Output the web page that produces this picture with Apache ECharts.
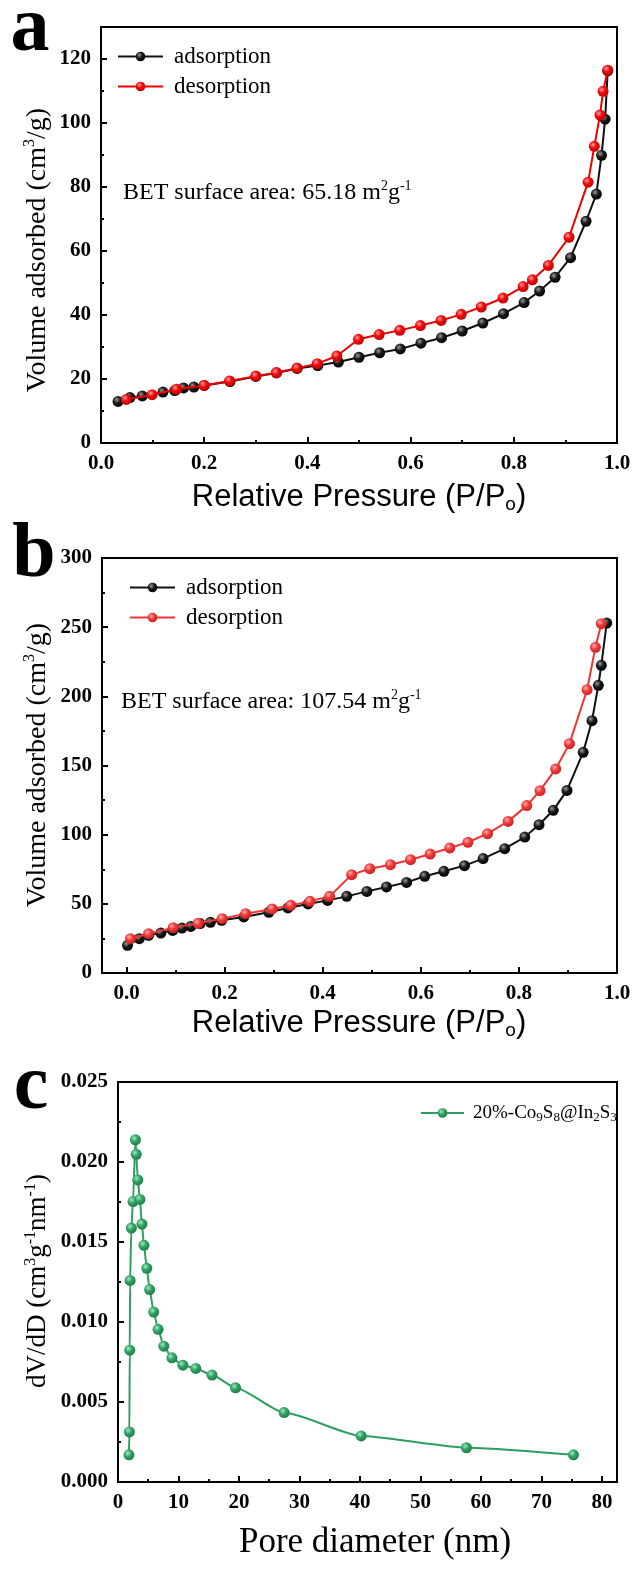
<!DOCTYPE html>
<html>
<head>
<meta charset="utf-8">
<script src="https://cdn.jsdelivr.net/npm/echarts@6/dist/echarts.min.js"></script>
<style>
  html, body { margin: 0; padding: 0; background: #fff; }
  #chart { width: 635px; height: 1578px; }
</style>
</head>
<body>
<div id="chart"></div>
<script>
// panel a: isotherm (P/Po, cm3/g)
var aAdsP = [0.033, 0.056, 0.08, 0.12, 0.143, 0.16, 0.18, 0.2, 0.25, 0.30, 0.34, 0.38, 0.42, 0.46, 0.50, 0.54, 0.58, 0.62, 0.66, 0.70, 0.74, 0.78, 0.82, 0.85, 0.88, 0.91, 0.94, 0.96, 0.97, 0.977, 0.982];
var aAdsV = [13.0, 14.2, 14.7, 15.9, 16.4, 17.2, 17.5, 18.0, 19.2, 20.8, 21.9, 23.3, 24.2, 25.3, 26.8, 28.2, 29.4, 31.2, 32.9, 35.0, 37.5, 40.4, 43.9, 47.5, 51.8, 57.9, 69.3, 77.8, 89.9, 101.2, 116.3];
var aDesP = [0.982, 0.973, 0.967, 0.956, 0.944, 0.907, 0.867, 0.836, 0.818, 0.779, 0.737, 0.698, 0.659, 0.619, 0.579, 0.539, 0.499, 0.457, 0.419, 0.38, 0.34, 0.30, 0.249, 0.2, 0.146, 0.099, 0.049];
var aDesV = [116.5, 109.9, 102.5, 92.7, 81.5, 64.3, 55.5, 51.0, 48.9, 45.3, 42.5, 40.2, 38.3, 36.7, 35.2, 33.9, 32.4, 27.2, 24.8, 23.4, 22.0, 20.9, 19.4, 18.0, 16.8, 15.1, 13.6];

// panel b
var bAdsP = [0.002, 0.026, 0.045, 0.07, 0.094, 0.113, 0.131, 0.15, 0.171, 0.194, 0.239, 0.29, 0.329, 0.37, 0.41, 0.449, 0.49, 0.53, 0.571, 0.608, 0.647, 0.689, 0.727, 0.771, 0.812, 0.841, 0.87, 0.898, 0.931, 0.949, 0.962, 0.968, 0.979];
var bAdsV = [20, 24.8, 27.2, 28.9, 30.8, 32.5, 33.7, 35.7, 36.6, 38.1, 40.5, 43.9, 47, 49.9, 52.5, 55.4, 59, 62.2, 65.5, 69.9, 73.5, 77.6, 82.7, 89.9, 98.3, 107.2, 117.6, 132, 159.5, 182.4, 208, 222.4, 253];
var bDesP = [0.968, 0.956, 0.939, 0.903, 0.875, 0.843, 0.816, 0.778, 0.736, 0.696, 0.659, 0.619, 0.579, 0.538, 0.496, 0.459, 0.414, 0.374, 0.335, 0.297, 0.243, 0.195, 0.146, 0.095, 0.045, 0.008];
var bDesV = [252.5, 235.4, 204.8, 165.8, 147.5, 131.8, 121, 109.6, 100.7, 94.5, 90.4, 86, 81.9, 78.3, 75.4, 71.1, 55.4, 51.8, 48.9, 46.3, 42.9, 39.3, 35.9, 32.8, 28.4, 24.8];

// panel c: pore size distribution
var cDiam = [1.81, 1.88, 1.94, 2.0, 2.21, 2.48, 2.88, 3.02, 3.28, 3.62, 3.95, 4.29, 4.76, 5.23, 5.9, 6.63, 7.57, 8.91, 10.72, 12.86, 15.54, 19.43, 27.47, 40.2, 57.6, 75.3];
var cDvdd = [0.0017, 0.00313, 0.00824, 0.0126, 0.01587, 0.01753, 0.02139, 0.02048, 0.01888, 0.01766, 0.01612, 0.01479, 0.01336, 0.01203, 0.01062, 0.00954, 0.00849, 0.00776, 0.0073, 0.0071, 0.00668, 0.00589, 0.00434, 0.00288, 0.00214, 0.0017];

// ticks
var pTicks = [0, 0.2, 0.4, 0.6, 0.8, 1.0];
var pMinor = [0.1, 0.3, 0.5, 0.7, 0.9];
var aVTicks = [0, 20, 40, 60, 80, 100, 120];
var aVMinor = [10, 30, 50, 70, 90, 110, 130];
var bVTicks = [0, 50, 100, 150, 200, 250, 300];
var bVMinor = [25, 75, 125, 175, 225, 275];
var cDTicks = [0, 10, 20, 30, 40, 50, 60, 70, 80];
var cDMinor = [5, 15, 25, 35, 45, 55, 65, 75];
var cVTicks = [0, 0.005, 0.010, 0.015, 0.020, 0.025];
var cVMinor = [0.0025, 0.0075, 0.0125, 0.0175, 0.0225];

function pairs(xs, ys) {
  return xs.map(function (x, i) { return [x, ys[i]]; });
}

function ball(c0, c1, c2) {
  return {
    type: 'radial', x: 0.38, y: 0.35, r: 0.7,
    colorStops: [{ offset: 0, color: c0 }, { offset: 0.45, color: c1 }, { offset: 1, color: c2 }]
  };
}

var serif = '"Liberation Serif", "DejaVu Serif", serif';
var sans = '"Liberation Sans", Arial, sans-serif';

function mainAxis(grid, min, max, ticks, pos, fmt) {
  return {
    type: 'value', gridIndex: grid, min: min, max: max, position: pos,
    axisLine: { show: true, onZero: false, lineStyle: { color: '#000', width: 2 } },
    axisTick: { show: true, inside: true, length: 6, customValues: ticks, lineStyle: { color: '#000', width: 2 } },
    axisLabel: {
      show: true, customValues: ticks, margin: 10, formatter: fmt,
      color: '#000', fontFamily: serif, fontWeight: 'bold', fontSize: 21
    },
    splitLine: { show: false }
  };
}

function minorAxis(grid, min, max, ticks, pos) {
  return {
    type: 'value', gridIndex: grid, min: min, max: max, position: pos,
    axisLine: { show: false, onZero: false },
    axisTick: { show: true, inside: true, length: 3, customValues: ticks, lineStyle: { color: '#000', width: 2 } },
    axisLabel: { show: false },
    splitLine: { show: false }
  };
}

function fix(n) { return function (v) { return v.toFixed(n); }; }

var chart = echarts.init(document.getElementById('chart'), null, { renderer: 'canvas' });

var subRich = {
  sub: { fontSize: 13, fontFamily: serif, color: '#000', verticalAlign: 'bottom', lineHeight: 12, padding: [10, 0, 0, 0] }
};

function txt(x, y, text, size, family, extra) {
  var st = { text: text, x: 0, y: 0, fontSize: size, fontFamily: family, fill: '#000',
             align: 'center', verticalAlign: 'middle', lineHeight: size + 4 };
  for (var k in extra) st[k] = extra[k];
  return { type: 'text', x: x, y: y, style: st, z: 10 };
}

var supT = { fontSize: 16, fontFamily: serif, fill: '#000', verticalAlign: 'top', lineHeight: 16 };
var supS = { fontSize: 14, fontFamily: serif, fill: '#000', verticalAlign: 'top', lineHeight: 14 };
var subX = { fontSize: 19, fontFamily: sans, fill: '#000', verticalAlign: 'bottom', padding: [16, 0, 0, 0], lineHeight: 19 };

var yTitleA = txt(38, 250, 'Volume adsorbed (cm{sup|3}/g)', 28, serif, { rich: { sup: supT } });
yTitleA.rotation = Math.PI / 2;
var yTitleB = txt(38, 765, 'Volume adsorbed (cm{sup|3}/g)', 28, serif, { rich: { sup: supT } });
yTitleB.rotation = Math.PI / 2;
var yTitleC = txt(38, 1281, 'dV/dD (cm{sup|3}g{sup|-1}nm{sup|-1})', 27, serif, { rich: { sup: supT } });
yTitleC.rotation = Math.PI / 2;

chart.setOption({
  animation: false,
  backgroundColor: '#fff',
  grid: [
    { left: 101, top: 27, width: 516, height: 416, show: true, borderColor: '#000', borderWidth: 2 },
    { left: 102, top: 558, width: 515, height: 415, show: true, borderColor: '#000', borderWidth: 2 },
    { left: 118, top: 1082, width: 499, height: 400, show: true, borderColor: '#000', borderWidth: 2 }
  ],
  xAxis: [
    mainAxis(0, 0, 1, pTicks, 'bottom', fix(1)),
    minorAxis(0, 0, 1, pMinor, 'bottom'),
    mainAxis(1, -0.05, 1, pTicks, 'bottom', fix(1)),
    minorAxis(1, -0.05, 1, pMinor, 'bottom'),
    mainAxis(2, 0, 82.5, cDTicks, 'bottom', fix(0)),
    minorAxis(2, 0, 82.5, cDMinor, 'bottom')
  ],
  yAxis: [
    mainAxis(0, 0, 130, aVTicks, 'left', fix(0)),
    minorAxis(0, 0, 130, aVMinor, 'left'),
    mainAxis(1, 0, 300, bVTicks, 'left', fix(0)),
    minorAxis(1, 0, 300, bVMinor, 'left'),
    mainAxis(2, 0, 0.025, cVTicks, 'left', fix(3)),
    minorAxis(2, 0, 0.025, cVMinor, 'left')
  ],
  legend: [
    {
      left: 117, top: 45, padding: 0, orient: 'vertical', itemWidth: 45, itemHeight: 12, itemGap: 7,
      data: ['adsorption', 'desorption'],
      textStyle: { fontFamily: serif, fontSize: 23, color: '#000', lineHeight: 23, padding: [0, 0, 0, 6] }
    },
    {
      left: 129, top: 576, padding: 0, orient: 'vertical', itemWidth: 45, itemHeight: 12, itemGap: 7,
      data: ['adsorption ', 'desorption '],
      textStyle: { fontFamily: serif, fontSize: 23, color: '#000', lineHeight: 23, padding: [0, 0, 0, 6] }
    },
    {
      left: 420, top: 1101, padding: 0, orient: 'vertical', itemWidth: 43, itemHeight: 12,
      data: ['20%-Co9S8@In2S3'],
      formatter: function () { return '20%-Co{sub|9}S{sub|8}@In{sub|2}S{sub|3}'; },
      textStyle: { fontFamily: serif, fontSize: 19, color: '#000', lineHeight: 22, padding: [0, 0, 0, 4], rich: subRich }
    }
  ],
  graphic: [
    txt(30, 30, 'a', 78, serif, { fontWeight: 'bold' }),
    txt(34, 556, 'b', 78, serif, { fontWeight: 'bold' }),
    txt(31, 1088, 'c', 78, serif, { fontWeight: 'bold' }),
    yTitleA, yTitleB, yTitleC,
    txt(359, 497, 'Relative Pressure (P/P{sub|o})', 31, sans, { rich: { sub: subX } }),
    txt(359, 1023, 'Relative Pressure (P/P{sub|o})', 31, sans, { rich: { sub: subX } }),
    txt(375, 1543, 'Pore diameter (nm)', 35, serif, {}),
    txt(123, 193, 'BET surface area: 65.18 m{sup|2}g{sup|-1}', 24, serif, { align: 'left', rich: { sup: supS } }),
    txt(121, 702, 'BET surface area: 107.54 m{sup|2}g{sup|-1}', 24, serif, { align: 'left', rich: { sup: supS } })
  ],
  series: [
    {
      name: 'adsorption', type: 'line', xAxisIndex: 0, yAxisIndex: 0,
      data: pairs(aAdsP, aAdsV), symbol: 'circle', symbolSize: 11, z: 3,
      lineStyle: { color: '#111', width: 2 },
      itemStyle: { color: ball('#9a9a9a', '#1a1a1a', '#000') }
    },
    {
      name: 'desorption', type: 'line', xAxisIndex: 0, yAxisIndex: 0,
      data: pairs(aDesP, aDesV), symbol: 'circle', symbolSize: 11, z: 4,
      lineStyle: { color: '#ee0000', width: 2 },
      itemStyle: { color: ball('#ff9a9a', '#ee0a0a', '#c00000') }
    },
    {
      name: 'adsorption ', type: 'line', xAxisIndex: 2, yAxisIndex: 2,
      data: pairs(bAdsP, bAdsV), symbol: 'circle', symbolSize: 11, z: 3,
      lineStyle: { color: '#111', width: 2 },
      itemStyle: { color: ball('#9a9a9a', '#1a1a1a', '#000') }
    },
    {
      name: 'desorption ', type: 'line', xAxisIndex: 2, yAxisIndex: 2,
      data: pairs(bDesP, bDesV), symbol: 'circle', symbolSize: 11, z: 4,
      lineStyle: { color: '#ef3434', width: 2 },
      itemStyle: { color: ball('#ffb0b0', '#f03a3a', '#c81e1e') }
    },
    {
      name: '20%-Co9S8@In2S3', type: 'line', xAxisIndex: 4, yAxisIndex: 4,
      data: pairs(cDiam, cDvdd), symbol: 'circle', symbolSize: 11, z: 3,
      smooth: 0.2, smoothMonotone: 'x',
      lineStyle: { color: '#2d9e5f', width: 2 },
      itemStyle: { color: ball('#a8e6c2', '#30a464', '#1c7a45') }
    }
  ]
});
</script>
</body>
</html>
